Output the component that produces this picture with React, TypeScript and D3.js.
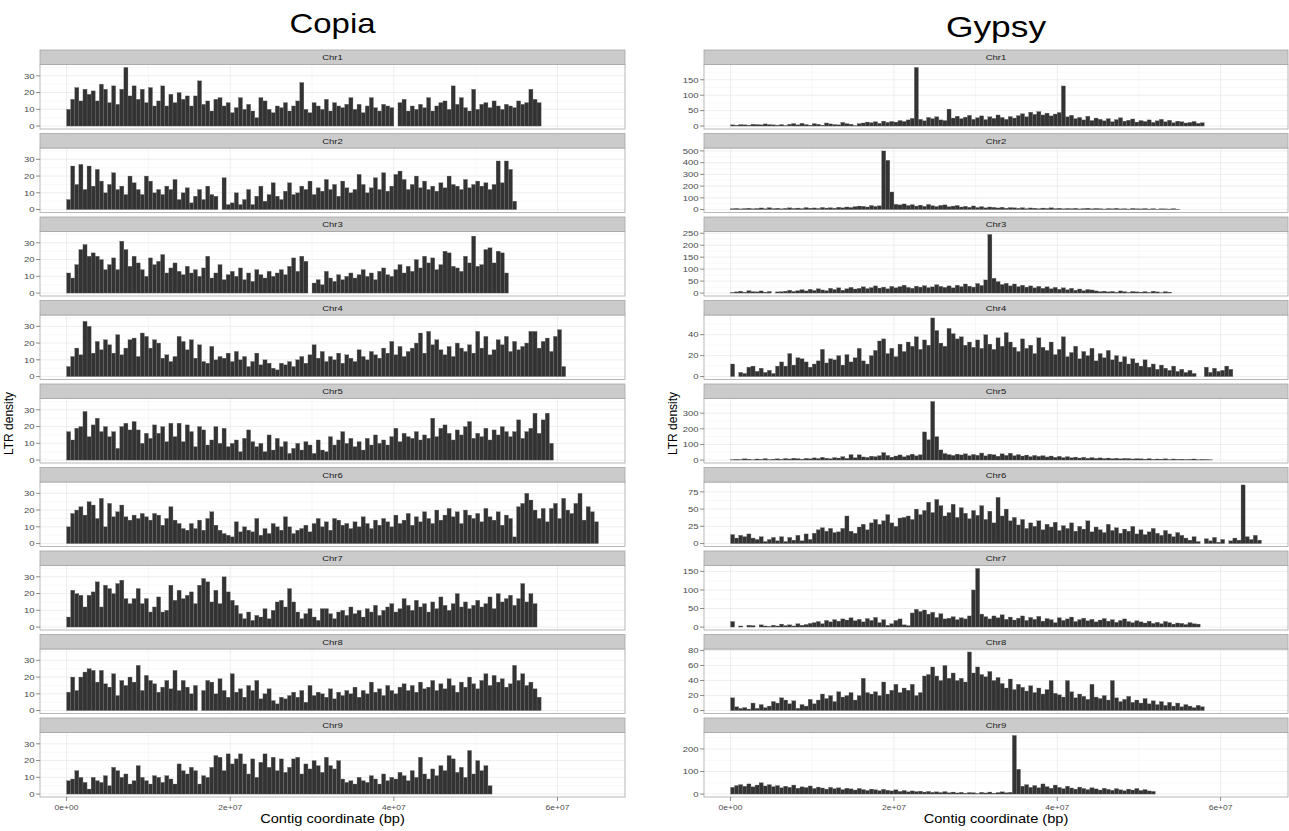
import React from "react";
import * as d3 from "d3";

// LTR density per 500 kb bin
const BIN = 500000;
const chromNames = ["Chr1", "Chr2", "Chr3", "Chr4", "Chr5", "Chr6", "Chr7", "Chr8", "Chr9"];

const copiaChr1 = [10,16,23,15,22,19,21,15,25,22,14,24,13,22,35,18,24,16,22,14,23,12,15,24,12,19,14,20,16,18,12,18,27,13,15,9,16,17,12,14,8,11,17,10,13,9,5,17,15,10,8,12,11,14,9,12,15,26,10,8,14,12,10,16,9,14,12,11,13,17,10,13,8,12,17,11,9,13,12,11,0,14,16,9,12,10,13,11,17,9,12,14,15,10,24,13,17,11,9,22,10,13,14,11,15,12,10,13,12,11,15,13,14,22,16,14];
const copiaChr2 = [6,26,15,27,12,26,14,24,17,10,15,22,12,14,9,20,16,12,9,20,17,10,12,9,14,12,18,6,10,13,4,8,12,6,14,9,8,0,19,3,4,10,3,6,12,3,8,14,5,9,16,8,6,11,16,9,10,14,12,17,9,13,11,18,12,15,8,17,13,10,12,21,15,10,13,19,12,22,11,14,21,23,18,12,15,20,13,17,12,14,11,16,13,20,15,14,12,18,13,15,17,14,16,12,15,29,16,29,24,5];
const copiaChr3 = [12,9,17,26,29,22,24,22,20,14,17,21,14,31,26,16,22,18,14,10,21,17,19,23,12,15,18,13,11,16,12,14,10,15,22,9,12,17,8,11,13,10,15,8,12,7,14,11,9,13,10,12,14,11,16,21,13,22,19,0,6,8,5,13,9,7,11,8,10,12,9,11,14,10,12,8,13,15,11,10,14,17,12,16,13,20,15,22,18,21,14,17,25,24,16,15,13,22,18,34,16,17,26,27,18,25,24,12];
const copiaChr4 = [6,12,17,13,33,30,14,21,16,22,19,14,25,13,17,22,23,12,26,24,17,22,20,11,13,9,12,24,21,16,22,11,19,9,8,18,10,12,11,14,9,15,10,12,6,9,14,7,10,8,5,4,8,7,9,6,10,12,8,13,19,11,15,9,12,10,14,8,13,11,9,16,12,10,15,13,11,17,14,21,13,18,12,15,17,20,26,14,27,19,22,16,13,18,12,20,17,15,19,14,27,17,24,13,16,22,19,24,15,21,16,18,20,27,27,17,21,23,15,24,28,6];
const copiaChr5 = [17,12,19,20,29,14,21,25,17,20,14,17,7,20,22,18,23,18,10,16,13,21,16,20,11,22,14,22,11,21,17,8,20,18,9,12,20,10,19,8,10,12,5,13,18,11,8,10,5,15,6,13,8,11,4,7,10,6,11,9,4,12,6,5,14,9,12,17,10,13,8,11,6,13,9,15,10,12,9,14,19,11,16,14,13,17,12,15,13,25,14,19,21,16,12,18,15,20,23,13,16,14,19,12,18,15,20,17,14,17,24,13,17,19,28,16,24,28,10];
const copiaChr6 = [10,18,20,22,17,25,23,15,27,10,24,16,19,23,16,14,17,15,18,16,14,18,17,11,15,22,14,12,9,8,12,9,14,8,15,19,11,8,6,5,4,13,7,10,8,7,15,5,9,6,12,10,8,16,10,6,8,9,11,7,12,15,10,13,8,15,14,11,12,9,13,10,16,12,9,14,11,15,13,10,17,12,14,18,11,16,13,19,15,12,20,14,17,21,16,19,12,20,17,15,18,13,21,16,14,19,11,17,15,4,22,24,30,26,20,15,21,13,21,24,15,27,20,18,24,30,14,22,19,13];
const copiaChr7 = [6,22,20,19,12,19,21,27,12,25,23,20,26,28,17,14,17,23,14,17,9,12,18,9,10,25,16,22,17,19,21,14,25,29,27,15,22,14,30,21,16,13,8,5,9,4,7,6,11,5,10,15,16,12,23,15,9,5,8,11,6,4,11,11,8,5,9,10,7,12,8,10,6,11,9,13,7,10,12,14,9,11,17,13,10,16,12,14,9,15,11,18,13,10,14,20,12,15,11,13,16,12,14,18,11,20,15,17,19,13,17,26,15,20,14];
const copiaChr8 = [11,20,12,20,23,25,24,17,24,16,14,22,9,18,15,20,17,27,12,21,18,16,11,14,18,13,24,12,18,14,10,15,0,12,18,17,10,19,12,8,22,11,13,8,15,12,18,7,10,13,6,4,8,7,9,11,8,12,5,15,9,11,10,8,13,7,11,9,12,10,14,8,12,10,17,11,13,9,15,12,10,14,16,12,15,11,17,13,14,18,12,16,13,19,15,11,17,14,20,16,13,18,22,15,21,17,19,14,16,27,18,22,15,17,13,8];
const copiaChr9 = [8,9,14,10,7,3,10,8,7,11,5,16,14,10,12,6,8,17,10,8,6,11,10,7,11,9,6,18,14,12,16,14,6,11,10,16,23,22,14,24,18,21,24,18,12,21,10,19,24,16,22,14,21,13,16,21,22,12,18,15,20,17,13,22,17,15,20,9,7,8,6,10,8,7,11,9,6,12,8,10,9,13,11,8,14,10,22,12,9,15,11,17,14,23,21,13,16,10,26,12,20,14,17,5];

const gypsyChr1 = [4,3,5,4,3,6,5,4,7,5,4,3,5,2,6,8,4,9,5,3,8,6,3,10,7,5,4,12,8,6,2,8,10,13,11,14,9,16,12,15,13,18,15,20,25,190,22,17,28,24,30,20,18,55,26,32,24,29,35,22,27,33,21,30,25,36,28,22,31,26,34,40,30,45,38,47,36,42,33,39,44,130,30,35,24,28,20,32,18,26,22,17,24,14,21,27,16,19,23,13,18,15,20,12,17,22,14,19,11,16,14,10,12,15,9,11];
const gypsyChr2 = [8,10,6,9,12,7,10,14,8,16,9,12,7,11,15,10,13,9,17,12,14,10,18,13,16,12,20,15,22,18,25,30,28,22,35,27,32,500,420,150,45,40,48,35,42,30,38,28,44,33,26,36,40,24,30,35,22,28,20,31,18,25,15,22,19,14,20,12,17,15,11,16,9,14,12,8,13,10,15,9,12,7,10,8,11,6,9,12,7,10,8,5,9,7,11,6,8,5,10,7,6,9,5,8,4,7,6,5,8,4];
const gypsyChr3 = [3,5,8,4,10,6,5,9,4,7,0,5,6,8,12,7,10,14,9,16,11,18,13,10,20,15,22,12,18,24,17,20,26,19,23,30,21,25,18,28,22,27,33,24,20,29,25,31,23,26,35,28,24,30,22,33,27,38,29,25,40,32,55,245,62,48,36,41,30,38,27,33,25,30,22,28,20,26,18,24,16,22,14,20,12,17,10,15,13,9,6,8,5,7,4,9,6,3,7,5,4,6,3,8,5,2,6,4];
const gypsyChr4 = [12,0,4,3,9,10,5,8,4,6,3,10,14,10,22,11,18,17,14,9,12,15,26,13,17,16,20,11,21,14,18,27,15,12,20,25,34,36,22,27,19,31,24,33,29,38,26,35,30,56,44,32,29,46,41,36,38,30,33,28,35,27,40,31,26,37,29,42,33,28,24,36,27,30,22,37,28,25,33,21,26,38,19,23,29,17,24,20,27,15,22,18,25,16,20,14,19,12,17,13,10,16,9,12,7,11,8,6,10,5,7,4,6,3,0,0,9,4,8,5,6,10,7];
const gypsyChr5 = [3,5,4,8,6,3,7,5,9,4,6,8,5,10,7,12,9,6,11,8,14,10,18,12,9,16,13,22,11,35,15,34,20,17,25,22,28,48,30,19,26,33,21,30,38,27,34,180,130,375,150,65,42,35,30,38,33,40,28,36,31,45,27,38,34,25,40,30,44,28,35,26,32,22,30,24,28,20,26,18,24,16,22,15,19,13,18,12,16,11,14,10,13,9,12,8,11,10,7,9,8,6,9,5,7,6,8,4,7,5,6,4,5,7,3,5,4,2];
const gypsyChr6 = [13,8,12,10,14,8,6,10,3,6,9,4,10,3,9,5,12,4,14,6,15,20,23,18,22,16,17,22,40,18,15,24,28,20,30,35,28,33,42,30,25,37,38,40,35,50,42,48,60,45,64,55,40,45,57,38,52,44,36,48,41,55,35,47,30,67,40,50,33,38,27,35,22,30,25,33,20,28,24,31,19,26,22,30,18,25,21,33,17,24,20,16,28,19,23,15,21,18,25,14,20,13,17,22,15,12,19,14,10,16,12,8,5,10,3,0,7,4,9,2,6,0,4,8,5,85,10,6,12,5];
const gypsyChr7 = [15,0,3,0,5,4,0,6,3,2,5,3,8,4,6,3,9,5,7,10,12,15,9,18,14,20,16,22,19,25,17,21,14,23,18,26,12,20,5,9,18,22,6,4,38,48,42,46,35,40,26,36,22,24,28,20,25,22,30,100,158,35,28,22,30,25,33,21,27,19,24,30,18,26,21,29,16,23,20,12,25,18,22,27,15,20,24,17,21,14,19,23,16,20,13,18,22,15,12,17,14,11,16,10,13,9,15,12,8,11,10,7,12,9,8];
const gypsyChr8 = [17,5,3,4,2,10,3,8,4,6,12,10,17,14,9,13,3,8,6,15,9,14,22,16,20,12,25,18,20,24,14,20,43,24,22,25,20,38,22,27,35,24,30,27,35,20,24,46,48,58,46,40,60,43,50,40,43,38,78,50,58,48,45,52,40,44,36,30,42,28,35,31,26,33,24,30,22,28,40,23,21,18,40,25,17,22,19,15,35,18,16,20,14,40,17,12,15,19,11,14,10,16,9,13,8,12,7,11,6,10,5,8,6,4,7,5];
const gypsyChr9 = [30,38,42,35,45,32,40,50,36,42,33,38,28,35,30,40,26,32,29,36,25,31,27,22,30,24,28,20,26,23,18,25,20,16,22,19,15,21,17,14,19,12,16,10,14,11,13,9,12,8,10,7,11,6,9,5,8,4,7,6,3,8,5,9,4,7,10,6,8,260,110,35,42,30,38,28,45,33,26,40,30,24,35,27,22,31,25,20,28,23,18,26,21,17,24,19,15,22,18,25,16,20,14,12];

const copiaSeries = [copiaChr1, copiaChr2, copiaChr3, copiaChr4, copiaChr5, copiaChr6, copiaChr7, copiaChr8, copiaChr9];
const gypsySeries = [gypsyChr1, gypsyChr2, gypsyChr3, gypsyChr4, gypsyChr5, gypsyChr6, gypsyChr7, gypsyChr8, gypsyChr9];

const copiaTicks = [0, 10, 20, 30];
const gypsyTicks = [
  [0, 50, 100, 150],
  [0, 100, 200, 300, 400, 500],
  [0, 50, 100, 150, 200, 250],
  [0, 20, 40],
  [0, 100, 200, 300],
  [0, 25, 50, 75],
  [0, 50, 100, 150],
  [0, 20, 40, 60, 80],
  [0, 100, 200],
];
const xTicks = [0, 2e7, 4e7, 6e7];
const xTickLabels = ["0e+00", "2e+07", "4e+07", "6e+07"];
const xMinor = [1e7, 3e7, 5e7];

const FONT = "'Liberation Sans', Arial, Helvetica, sans-serif";
const TOP = 50;
const PITCH = 83.5;
const STRIP = 14.5;
const PLOT = 64.5;
const SX = 1.22; // the original figure's text is a little wide

const longest = d3.max([...copiaSeries, ...gypsySeries], (s) => s.length) * BIN;
const copiaMax = d3.max(copiaSeries, (s) => d3.max(s));

// text stretched horizontally
function WideText({ x, y, size, anchor = "middle", fill = "#000", children }) {
  return (
    <text transform={`translate(${x},${y}) scale(${SX},1)`} textAnchor={anchor} fontSize={size} fill={fill}>
      {children}
    </text>
  );
}

function Panel({ x0, x1, top, name, values, yMax, ticks, showX }) {
  const plotTop = top + STRIP;
  const plotBottom = plotTop + PLOT;
  const x = d3.scaleLinear().domain([-0.05 * longest, 1.05 * longest]).range([x0, x1]);
  const y = d3.scaleLinear().domain([-0.05 * yMax, 1.05 * yMax]).range([plotBottom, plotTop]);

  // minor y grid: halfway between major ticks
  const step = ticks[1] - ticks[0];
  const yMinor = ticks.map((t) => t + step / 2).filter((t) => t < 1.05 * yMax);

  return (
    <g>
      <rect x={x0} y={plotTop} width={x1 - x0} height={PLOT} fill="#fff" />
      {yMinor.map((t) => (
        <line key={"ym" + t} x1={x0} x2={x1} y1={y(t)} y2={y(t)} stroke="#f4f4f4" strokeWidth={0.6} />
      ))}
      {xMinor.map((t) => (
        <line key={"xm" + t} x1={x(t)} x2={x(t)} y1={plotTop} y2={plotBottom} stroke="#f4f4f4" strokeWidth={0.6} />
      ))}
      {ticks.map((t) => (
        <line key={"yg" + t} x1={x0} x2={x1} y1={y(t)} y2={y(t)} stroke="#e6e6e6" strokeWidth={0.7} />
      ))}
      {xTicks.map((t) => (
        <line key={"xg" + t} x1={x(t)} x2={x(t)} y1={plotTop} y2={plotBottom} stroke="#e6e6e6" strokeWidth={0.7} />
      ))}
      {values.map((v, i) =>
        v > 0 ? (
          <rect
            key={i}
            x={x(i * BIN)}
            width={x((i + 1) * BIN) - x(i * BIN)}
            y={y(v)}
            height={y(0) - y(v)}
            fill="#333"
            stroke="#6e6e6e"
            strokeWidth={0.3}
          />
        ) : null
      )}
      <rect x={x0} y={plotTop} width={x1 - x0} height={PLOT} fill="none" stroke="#a6a6a6" strokeWidth={0.8} />
      <rect x={x0} y={top} width={x1 - x0} height={STRIP} fill="#cbcbcb" stroke="#a6a6a6" strokeWidth={0.8} />
      <WideText x={(x0 + x1) / 2} y={top + STRIP / 2 + 2.8} size={7.8} fill="#1a1a1a">
        {name}
      </WideText>
      {ticks.map((t) => (
        <g key={"yt" + t}>
          <line x1={x0 - 4} x2={x0} y1={y(t)} y2={y(t)} stroke="#7f7f7f" strokeWidth={0.9} />
          <WideText x={x0 - 5.5} y={y(t) + 2.8} size={7.8} anchor="end" fill="#4d4d4d">
            {t}
          </WideText>
        </g>
      ))}
      {showX &&
        xTicks.map((t, i) => (
          <g key={"xt" + t}>
            <line x1={x(t)} x2={x(t)} y1={plotBottom} y2={plotBottom + 4} stroke="#7f7f7f" strokeWidth={0.9} />
            <WideText x={x(t)} y={plotBottom + 12.5} size={7} fill="#4d4d4d">
              {xTickLabels[i]}
            </WideText>
          </g>
        ))}
    </g>
  );
}

function Column({ title, x0, x1, series, fixedY, titleY, titleSize }) {
  const cx = (x0 + x1) / 2;
  const lastBottom = TOP + 8 * PITCH + STRIP + PLOT;
  return (
    <g>
      <WideText x={cx} y={titleY} size={titleSize}>
        {title}
      </WideText>
      {series.map((values, i) => (
        <Panel
          key={i}
          x0={x0}
          x1={x1}
          top={TOP + i * PITCH}
          name={chromNames[i]}
          values={values}
          yMax={fixedY ? copiaMax : d3.max(values)}
          ticks={fixedY ? copiaTicks : gypsyTicks[i]}
          showX={i === series.length - 1}
        />
      ))}
      <WideText x={cx} y={lastBottom + 25.5} size={12}>
        Contig coordinate (bp)
      </WideText>
      <text
        transform={`translate(${x0 - 27},${(TOP + lastBottom) / 2}) rotate(-90)`}
        textAnchor="middle"
        fontSize={12}
        fill="#000"
      >
        LTR density
      </text>
    </g>
  );
}

export default function App() {
  return (
    <svg
      width={1289}
      height={831}
      style={{ position: "absolute", left: 0, top: 0, background: "#fff" }}
      fontFamily={FONT}
    >
      <rect width={1289} height={831} fill="#fff" />
      <Column title="Copia" x0={40} x1={625} series={copiaSeries} fixedY={true} titleY={33} titleSize={27} />
      <Column title="Gypsy" x0={704} x1={1288} series={gypsySeries} fixedY={false} titleY={37} titleSize={29} />
    </svg>
  );
}
